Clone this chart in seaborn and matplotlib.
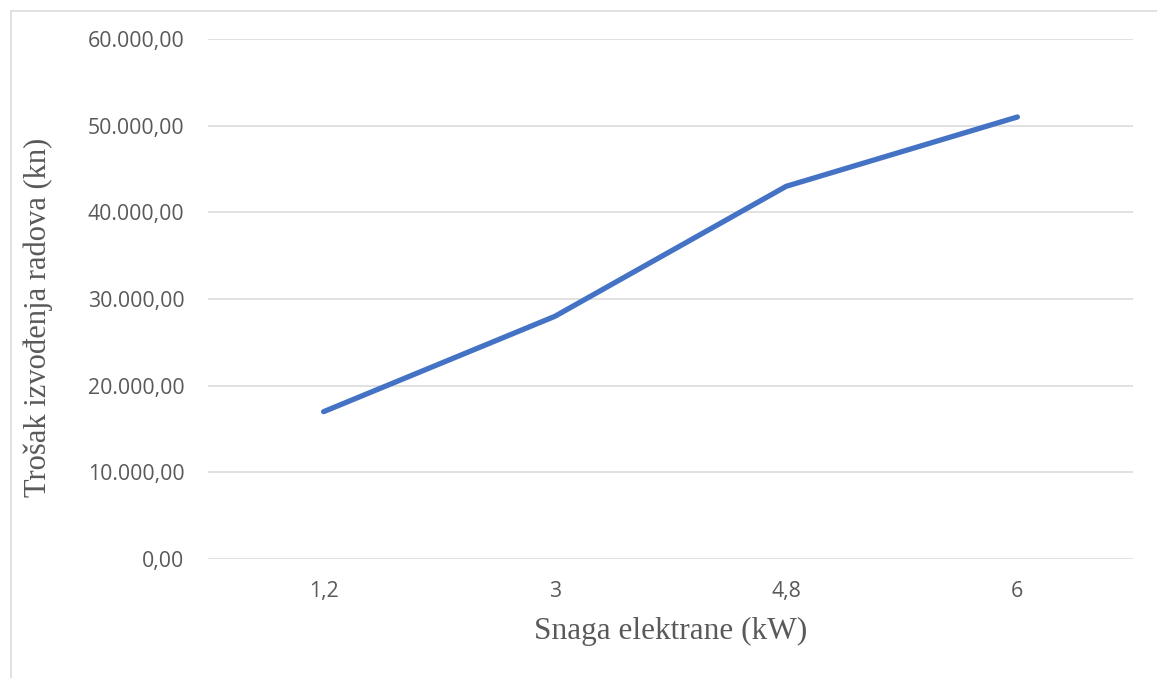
import matplotlib
matplotlib.use("Agg")
import matplotlib.pyplot as plt
from matplotlib.lines import Line2D
from matplotlib.ticker import FuncFormatter, MultipleLocator
import pandas as pd
import seaborn as sns

# data
snaga = ["1,2", "3", "4,8", "6"]
trosak = [17000, 28000, 43000, 51000]

sns.set_theme(style="white")
plt.rcParams["font.family"] = ["Open Sans", "DejaVu Sans"]


def hr_format(value, _pos):
    # 60000 -> 60.000,00
    text = f"{value:,.2f}"
    return text.replace(",", "X").replace(".", ",").replace("X", ".")


df = pd.DataFrame({"snaga": snaga, "trosak": trosak})

fig = plt.figure(figsize=(11.57, 6.78), dpi=100)
ax = fig.add_axes([208 / 1157, 1 - 559 / 678, 925 / 1157, 520 / 678])

sns.lineplot(data=df, x="snaga", y="trosak", sort=False, ax=ax,
             color="#4472C4", linewidth=3.8, solid_capstyle="round")

ax.set_xlim(-0.5, len(snaga) - 0.5)
ax.set_ylim(0, 60000)
ax.yaxis.set_major_locator(MultipleLocator(10000))
ax.yaxis.set_major_formatter(FuncFormatter(hr_format))
ax.grid(axis="y", color="#D9D9D9", linewidth=1.1)
ax.set_axisbelow(True)
for side in ["top", "right", "left", "bottom"]:
    ax.spines[side].set_visible(False)

ax.tick_params(axis="both", length=0, labelsize=15.3, labelcolor="#595959")
ax.tick_params(axis="y", pad=17)
ax.tick_params(axis="x", pad=16)

serif = ["Liberation Serif", "DejaVu Serif"]
ax.set_xlabel("Snaga elektrane (kW)", family=serif, fontsize=22.5, color="#595959")
ax.set_ylabel("Trošak izvođenja radova (kn)", family=serif, fontsize=22, color="#595959")
ax.xaxis.label.set_va("center")
ax.yaxis.label.set_va("center")
ax.xaxis.set_label_coords(0.5, -0.140)
ax.yaxis.set_label_coords((38 - 208) / 925, 0.464)

# chart area border (only left and top visible in the crop)
bx, by = 10.5 / 1157, 1 - 10.5 / 678
fig.add_artist(Line2D([bx, bx], [0, by], transform=fig.transFigure, color="#D9D9D9", linewidth=1.1))
fig.add_artist(Line2D([bx, 1], [by, by], transform=fig.transFigure, color="#D9D9D9", linewidth=1.1))

fig.savefig("out.png", dpi=100)
